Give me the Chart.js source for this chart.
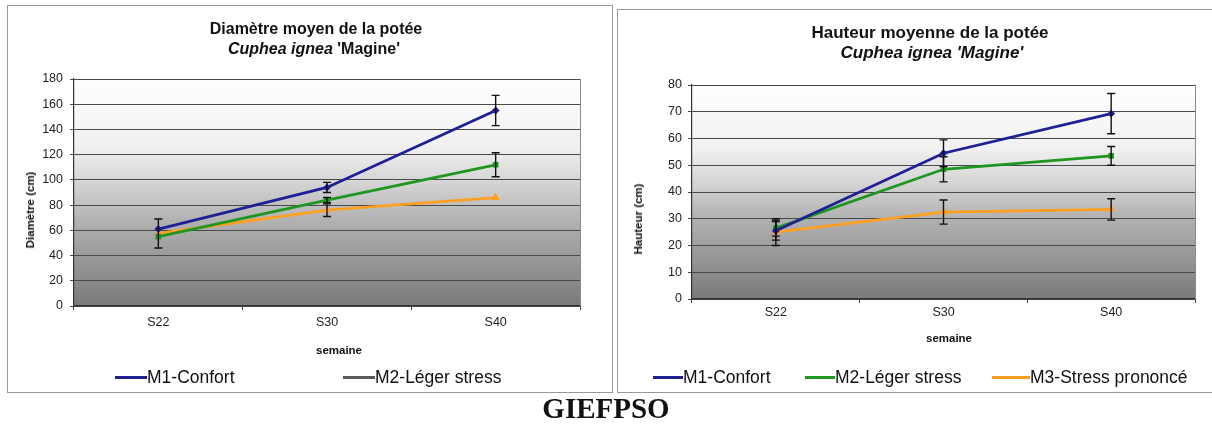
<!DOCTYPE html>
<html>
<head>
<meta charset="utf-8">
<script src="https://cdn.jsdelivr.net/npm/chart.js@4.4.1/dist/chart.umd.min.js"></script>
<style>
html, body { margin:0; padding:0; background:#fff; width:1212px; height:425px; overflow:hidden; position:relative;
  font-family:"Liberation Sans", Arial, sans-serif; color:#111; }
.frame { position:absolute; border:1px solid #9a9a9a; box-sizing:border-box; pointer-events:none; }
canvas { position:absolute; }
.title { position:absolute; font-weight:bold; white-space:nowrap; transform:translateX(-50%); line-height:18px; }
.ytitle { position:absolute; font-weight:bold; font-size:11.5px; white-space:nowrap; transform:translate(-50%,-50%) rotate(-90deg); }
.xtitle { position:absolute; font-weight:bold; font-size:11.5px; white-space:nowrap; transform:translate(-50%,-50%); }
.leg { position:absolute; font-size:17.5px; white-space:nowrap; height:20px; line-height:20px; }
.leg i { display:inline-block; vertical-align:middle; height:3px; position:relative; top:-1px; }
#foot { position:absolute; left:0; width:1212px; top:392px; height:34px; line-height:34px; text-align:center;
  font:bold 29px "Liberation Serif", "Times New Roman", serif; }
</style>
</head>
<body>
<div class="frame" style="left:7px;top:5px;width:606px;height:388px"></div>
<div class="frame" style="left:617px;top:9px;width:620px;height:384px"></div>
<canvas id="chartDiam" width="605" height="387" style="left:7px;top:5px"></canvas>
<canvas id="chartHaut" width="608" height="383" style="left:617px;top:9px"></canvas>

<div class="title" style="left:316px;top:20px;font-size:16px">Diamètre moyen de la potée</div>
<div class="title" style="left:314px;top:40px;font-size:16px"><i>Cuphea ignea</i> 'Magine'</div>
<div class="title" style="left:930px;top:24px;font-size:17px">Hauteur moyenne de la potée</div>
<div class="title" style="left:932px;top:44px;font-size:17px"><i>Cuphea ignea 'Magine'</i></div>

<div class="ytitle" style="left:30px;top:210px">Diamètre (cm)</div>
<div class="ytitle" style="left:638px;top:219px">Hauteur (cm)</div>
<div class="xtitle" style="left:339px;top:350px">semaine</div>
<div class="xtitle" style="left:949px;top:338px">semaine</div>

<div id="legends"></div>
<div id="foot">GIEFPSO</div>

<script>
// categories and series
const categories = ["S22", "S30", "S40"];
const seriesNames = ["M1-Confort", "M2-Léger stress", "M3-Stress prononcé"];

// diamètre (cm)
const diamM1 = [61, 94, 155];
const diamM2 = [55, 84, 112];
const diamM3 = [57.5, 76, 86];
const diamErrM1 = [0, 4, 12];
const diamErrM2 = [0, 2, 9.5];
const diamErrM3 = [11.5, 5, 0];
const diamTicks = [0, 20, 40, 60, 80, 100, 120, 140, 160, 180];

// hauteur (cm)
const hautM1 = [25.5, 54.5, 69.3];
const hautM2 = [26.5, 48.5, 53.5];
const hautM3 = [25, 32.5, 33.5];
const hautErrM1 = [3.5, 5, 7.5];
const hautErrM2 = [3, 4.7, 3.5];
const hautErrM3 = [5, 4.5, 4];
const hautTicks = [0, 10, 20, 30, 40, 50, 60, 70, 80];

const colors = ["#1f1f96", "#1f961f", "#ffa020"];
const pointStyles = ["rectRot", "rect", "triangle"];

function makeDatasets(values, errors) {
    return values.map((v, i) => ({
        label: seriesNames[i],
        data: v,
        errors: errors[i],
        borderColor: colors[i],
        backgroundColor: colors[i],
        borderWidth: 2.8,
        pointRadius: 2,
        pointStyle: pointStyles[i],
        tension: 0
    }));
}

// gradient plot background + right border
const plotBg = {
    id: "plotBg",
    beforeDraw(chart) {
        const { ctx, chartArea: a } = chart;
        const g = ctx.createLinearGradient(0, a.top, 0, a.bottom);
        g.addColorStop(0, "#ffffff");
        g.addColorStop(0.3, "#f0f0f0");
        g.addColorStop(0.45, "#d6d6d6");
        g.addColorStop(0.62, "#b2b2b2");
        g.addColorStop(1, "#7a7a7a");
        ctx.save();
        ctx.fillStyle = g;
        ctx.fillRect(a.left, a.top, a.right - a.left, a.bottom - a.top);
        ctx.restore();
    },
    afterDraw(chart) {
        const { ctx, chartArea: a } = chart;
        ctx.save();
        ctx.strokeStyle = "#8a8a8a";
        ctx.lineWidth = 1;
        ctx.beginPath();
        ctx.moveTo(a.right + 0.5, a.top);
        ctx.lineTo(a.right + 0.5, a.bottom);
        ctx.stroke();
        ctx.restore();
    }
};

// error bars drawn through the chart's scales
const errorBars = {
    id: "errorBars",
    afterDatasetsDraw(chart) {
        const { ctx, scales: { x, y } } = chart;
        ctx.save();
        ctx.strokeStyle = "#111";
        ctx.lineWidth = 1.4;
        chart.data.datasets.forEach(ds => {
            ds.data.forEach((v, i) => {
                const e = ds.errors[i];
                if (!e) return;
                const px = x.getPixelForValue(i);
                const yt = y.getPixelForValue(v + e);
                const yb = y.getPixelForValue(v - e);
                ctx.beginPath();
                ctx.moveTo(px, yt); ctx.lineTo(px, yb);
                ctx.moveTo(px - 4, yt); ctx.lineTo(px + 4, yt);
                ctx.moveTo(px - 4, yb); ctx.lineTo(px + 4, yb);
                ctx.stroke();
            });
        });
        ctx.restore();
    }
};

function makeChart(id, datasets, ticks, cfg) {
    return new Chart(document.getElementById(id), {
        type: "line",
        data: { labels: categories, datasets: datasets },
        plugins: [plotBg, errorBars],
        options: {
            responsive: false,
            animation: false,
            layout: { padding: cfg.padding },
            plugins: { legend: { display: false }, title: { display: false }, tooltip: { enabled: false } },
            scales: {
                x: {
                    type: "category",
                    offset: true,
                    grid: { offset: true, drawOnChartArea: false, tickLength: 4, color: "#444" },
                    border: { color: "#333", width: 1.2 },
                    ticks: { font: { size: 12.5, family: "Liberation Sans" }, color: "#222", padding: cfg.xTickPad },
                    afterFit: s => { s.height = cfg.xHeight; }
                },
                y: {
                    min: ticks[0],
                    max: ticks[ticks.length - 1],
                    afterBuildTicks: s => { s.ticks = ticks.map(v => ({ value: v })); },
                    grid: { color: "#4a4a4a", lineWidth: 1, tickLength: 4 },
                    border: { color: "#333", width: 1.2 },
                    ticks: { font: { size: 12.5, family: "Liberation Sans" }, color: "#222", padding: cfg.yTickPad },
                    afterFit: s => { s.width = cfg.yWidth; }
                }
            }
        }
    });
}

makeChart("chartDiam",
    makeDatasets([diamM1, diamM2, diamM3], [diamErrM1, diamErrM2, diamErrM3]),
    diamTicks,
    { padding: { left: 8, top: 74, right: 32, bottom: 26 }, yWidth: 59, xHeight: 60, xTickPad: 5, yTickPad: 7 });

makeChart("chartHaut",
    makeDatasets([hautM1, hautM2, hautM3], [hautErrM1, hautErrM2, hautErrM3]),
    hautTicks,
    { padding: { left: 8, top: 76, right: 30, bottom: 43 }, yWidth: 67, xHeight: 50, xTickPad: 2, yTickPad: 6 });

// legends (left chart shows only the first two entries)
const legendItems = [
    { series: 0, x: 115, y: 367, line: 32, color: colors[0] },
    { series: 1, x: 343, y: 367, line: 32, color: "#5a5a5a" },
    { series: 0, x: 653, y: 367, line: 30, color: colors[0] },
    { series: 1, x: 805, y: 367, line: 30, color: colors[1] },
    { series: 2, x: 992, y: 367, line: 38, color: colors[2] }
];
const legRoot = document.getElementById("legends");
legendItems.forEach(it => {
    const d = document.createElement("div");
    d.className = "leg";
    d.style.left = it.x + "px";
    d.style.top = it.y + "px";
    const sw = document.createElement("i");
    sw.style.width = it.line + "px";
    sw.style.background = it.color;
    d.appendChild(sw);
    d.appendChild(document.createTextNode(seriesNames[it.series]));
    legRoot.appendChild(d);
});
</script>
</body>
</html>
